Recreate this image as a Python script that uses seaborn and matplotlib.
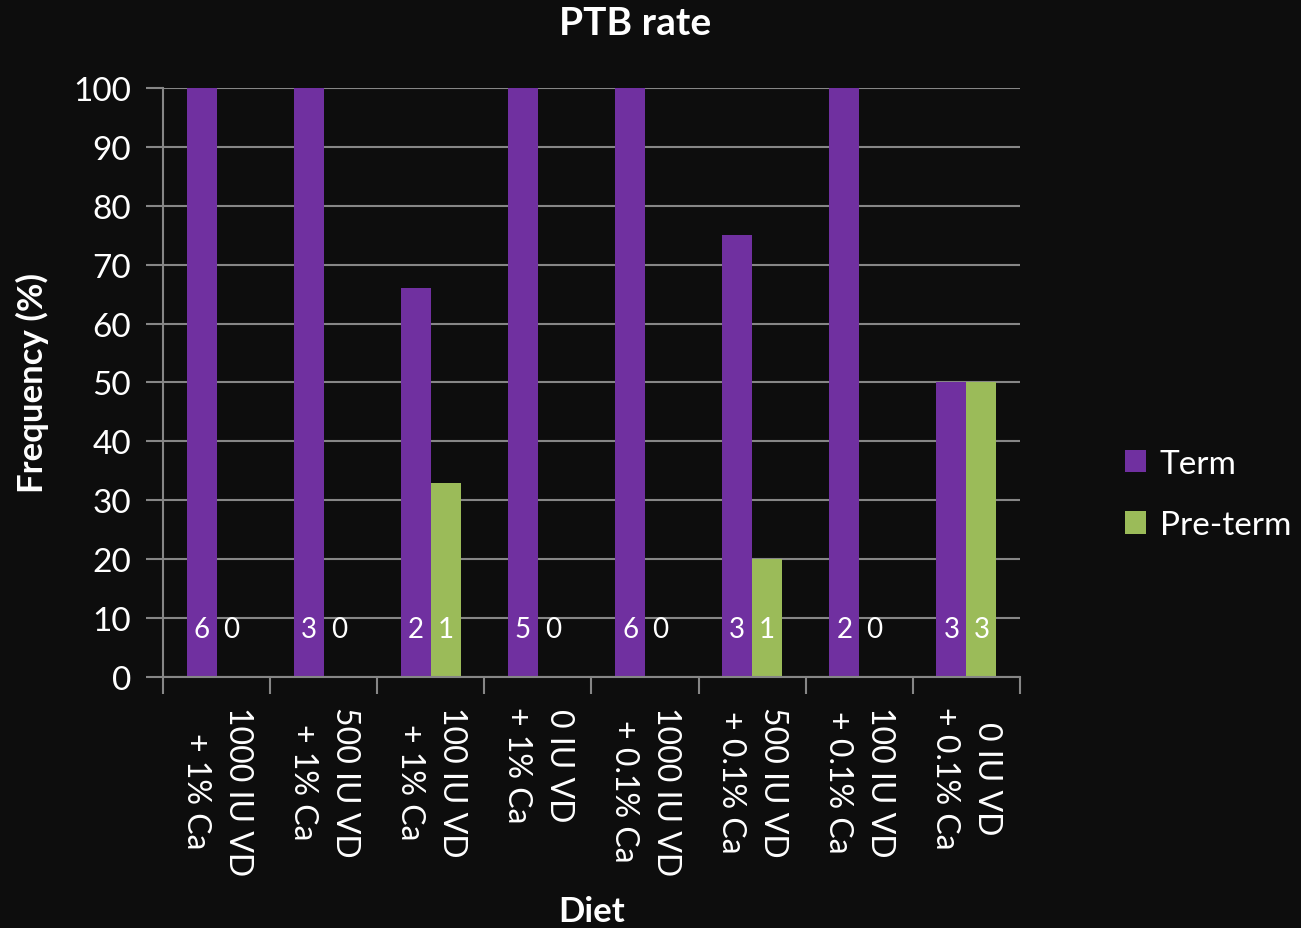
import matplotlib
matplotlib.use("Agg")
import matplotlib.pyplot as plt
import seaborn as sns
import pandas as pd

# данные диаграммы
diets = ["1000 IU VD\n+ 1% Ca", "500 IU VD\n+ 1% Ca", "100 IU VD\n+ 1% Ca", "0 IU VD\n+ 1% Ca",
         "1000 IU VD\n+ 0.1% Ca", "500 IU VD\n+ 0.1% Ca", "100 IU VD\n+ 0.1% Ca", "0 IU VD\n+ 0.1% Ca"]
term_pct = [100, 100, 66, 100, 100, 75, 100, 50]
preterm_pct = [0, 0, 33, 0, 0, 20, 0, 50]
term_n = [6, 3, 2, 5, 6, 3, 2, 3]
preterm_n = [0, 0, 1, 0, 0, 1, 0, 3]
series = ["Term", "Pre-term"]
y_ticks = list(range(0, 101, 10))

bg = "#0d0d0d"
grid_col = "#868686"
palette = {"Term": "#7030a0", "Pre-term": "#9bbb59"}

df = pd.DataFrame({
    "Diet": diets * 2,
    "Outcome": [series[0]] * len(diets) + [series[1]] * len(diets),
    "Frequency": term_pct + preterm_pct,
    "N": term_n + preterm_n,
})

sns.set_style("dark")
plt.rcParams["font.family"] = ["Lato", "DejaVu Sans"]

fig = plt.figure(figsize=(13.01, 9.29), dpi=100, facecolor=bg)
ax = fig.add_axes([0.1253, 0.2702, 0.6587, 0.634])
ax.set_facecolor(bg)

sns.barplot(data=df, x="Diet", y="Frequency", hue="Outcome", hue_order=series,
            palette=palette, width=0.56, errorbar=None, saturation=1,
            linewidth=0, ax=ax)

# подписи количества внутри столбцов
for cont, counts in zip(ax.containers, [term_n, preterm_n]):
    for patch, n in zip(cont.patches, counts):
        ax.text(patch.get_x() + patch.get_width() / 2, 8.1, str(n),
                ha="center", va="center", color="white", fontsize=20)

ax.set_ylim(0, 100)
ax.set_xlim(-0.5, len(diets) - 0.5)
ax.set_yticks(y_ticks)
ax.yaxis.grid(True, color=grid_col, linewidth=1.5)
ax.xaxis.grid(False)
ax.set_axisbelow(True)

for s in ["top", "right"]:
    ax.spines[s].set_visible(False)
for s in ["left", "bottom"]:
    ax.spines[s].set_visible(True)
    ax.spines[s].set_color(grid_col)
    ax.spines[s].set_linewidth(1.5)

ax.tick_params(axis="y", colors=grid_col, length=12, width=1.5, labelcolor="white",
               labelsize=24, pad=11, left=True)
ax.set_xticks(range(len(diets)))
ax.set_xticklabels(diets, rotation=-90, ha="center", va="top", multialignment="center",
                   color="white", fontsize=23, linespacing=1.5)
ax.tick_params(axis="x", which="major", length=0, pad=21)
ax.set_xticks([i - 0.5 for i in range(len(diets) + 1)], minor=True)
ax.tick_params(axis="x", which="minor", length=12, width=1.5, color=grid_col, bottom=True)

ax.set_xlabel("")
ax.set_ylabel("")
fig.text(592 / 1301, 1 - 912 / 929, "Diet", ha="center", va="center", color="white",
         fontsize=25, fontweight="bold")
fig.text(32 / 1301, 1 - 383 / 929, "Frequency (%)", ha="center", va="center", color="white",
         fontsize=25, fontweight="bold", rotation=90)
fig.text(0.488, 0.975, "PTB rate", ha="center", va="center", color="white",
         fontsize=28, fontweight="bold")

leg = ax.legend(loc="center left", bbox_to_anchor=(1.087, 0.31), frameon=False,
                handlelength=0.65, handleheight=0.65, labelspacing=0.95,
                handletextpad=0.4, fontsize=24, title=None)
for t in leg.get_texts():
    t.set_color("white")

fig.savefig("out.png", dpi=100, facecolor=bg)
